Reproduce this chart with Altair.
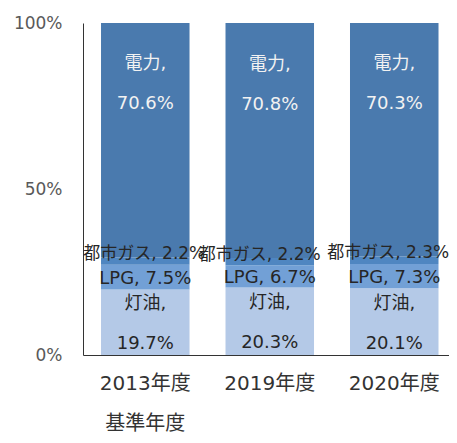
import altair as alt
import pandas as pd

years = ["2013年度", "2019年度", "2020年度"]
year_sublabels = {"2013年度": "基準年度"}
types = ["灯油", "LPG", "都市ガス", "電力"]
colors = ["#B4C9E7", "#72A0D6", "#4F86C1", "#4A7AAE"]
kerosene = [19.7, 20.3, 20.1]
lpg = [7.5, 6.7, 7.3]
city_gas = [2.2, 2.2, 2.3]
electricity = [70.6, 70.8, 70.3]
y_ticks = [0, 50, 100]

series = {"灯油": kerosene, "LPG": lpg, "都市ガス": city_gas, "電力": electricity}
two_line = {"灯油", "電力"}
gas_label_dx = {"2013年度": -1, "2019年度": -10, "2020年度": -6}

rows = []
for i, t in enumerate(types):
    for yr, v in zip(years, series[t]):
        sep = "\n" if t in two_line else " "
        rows.append({"year": yr, "type": t, "value": v, "order": i,
                     "label": f"{t},{sep}{v:.1f}%"})
df = pd.DataFrame(rows)

FONT = "DejaVu Sans, Noto Sans CJK JP"

label_expr = " : ".join(
    [f"datum.value == '{k}' ? ['{k}', '{v}']" for k, v in year_sublabels.items()]
    + ["datum.value"]
)

x_axis = alt.Axis(title=None, labelAngle=0, labelFontSize=20, labelColor="#333333",
                  labelPadding=18, labelLineHeight=40, ticks=False,
                  domainColor="#333333", labelFont=FONT, labelExpr=label_expr)
y_axis = alt.Axis(values=y_ticks, labelExpr="datum.value + '%'", grid=False,
                  ticks=False, domainColor="#333333", labelFontSize=17,
                  labelColor="#595959", labelPadding=21, title=None,
                  labelFont=FONT)
x_scale = alt.Scale(paddingInner=0.289, paddingOuter=0.1145, align=0.632)
y_scale = alt.Scale(domain=[0, 100])

bars = alt.Chart(df).mark_bar().encode(
    x=alt.X("year:N", sort=years, scale=x_scale, axis=x_axis),
    y=alt.Y("value:Q", stack="zero", scale=y_scale, axis=y_axis),
    color=alt.Color("type:N", scale=alt.Scale(domain=types, range=colors), legend=None),
    order=alt.Order("order:Q", sort="ascending"),
)

text_base = alt.Chart(df).transform_window(
    cum="sum(value)", sort=[alt.SortField("order")], groupby=["year"], frame=[None, 0]
).transform_calculate(mid="datum.cum - datum.value / 2")


def text_layer(t, dy, color, size=18, dx=0, year=None):
    c = text_base.transform_filter(alt.datum.type == t)
    if year is not None:
        c = c.transform_filter(alt.datum.year == year)
    return c.mark_text(
        lineBreak="\n", lineHeight=40, fontSize=size, font=FONT,
        baseline="middle", align="center", dy=dy, dx=dx, color=color,
    ).encode(
        x=alt.X("year:N", sort=years, scale=x_scale, axis=x_axis),
        y=alt.Y("mid:Q", scale=y_scale, axis=y_axis),
        text="label:N",
    )


gas_layers = [text_layer("都市ガス", -7, "#262626", size=17, dx=gas_label_dx[yr], year=yr)
              for yr in years]

chart = alt.layer(
    bars,
    text_layer("灯油", -18, "#262626"),
    text_layer("LPG", 2, "#262626"),
    *gas_layers,
    text_layer("電力", -76, "#F2F2F2"),
).properties(
    width=366, height=332,
    autosize=alt.AutoSizeParams(type="none"),
    padding={"left": 75, "top": 15, "right": 0, "bottom": 80},
).configure_view(stroke=None)

chart.save("out.html", embed_options={"renderer": "svg", "actions": False})
